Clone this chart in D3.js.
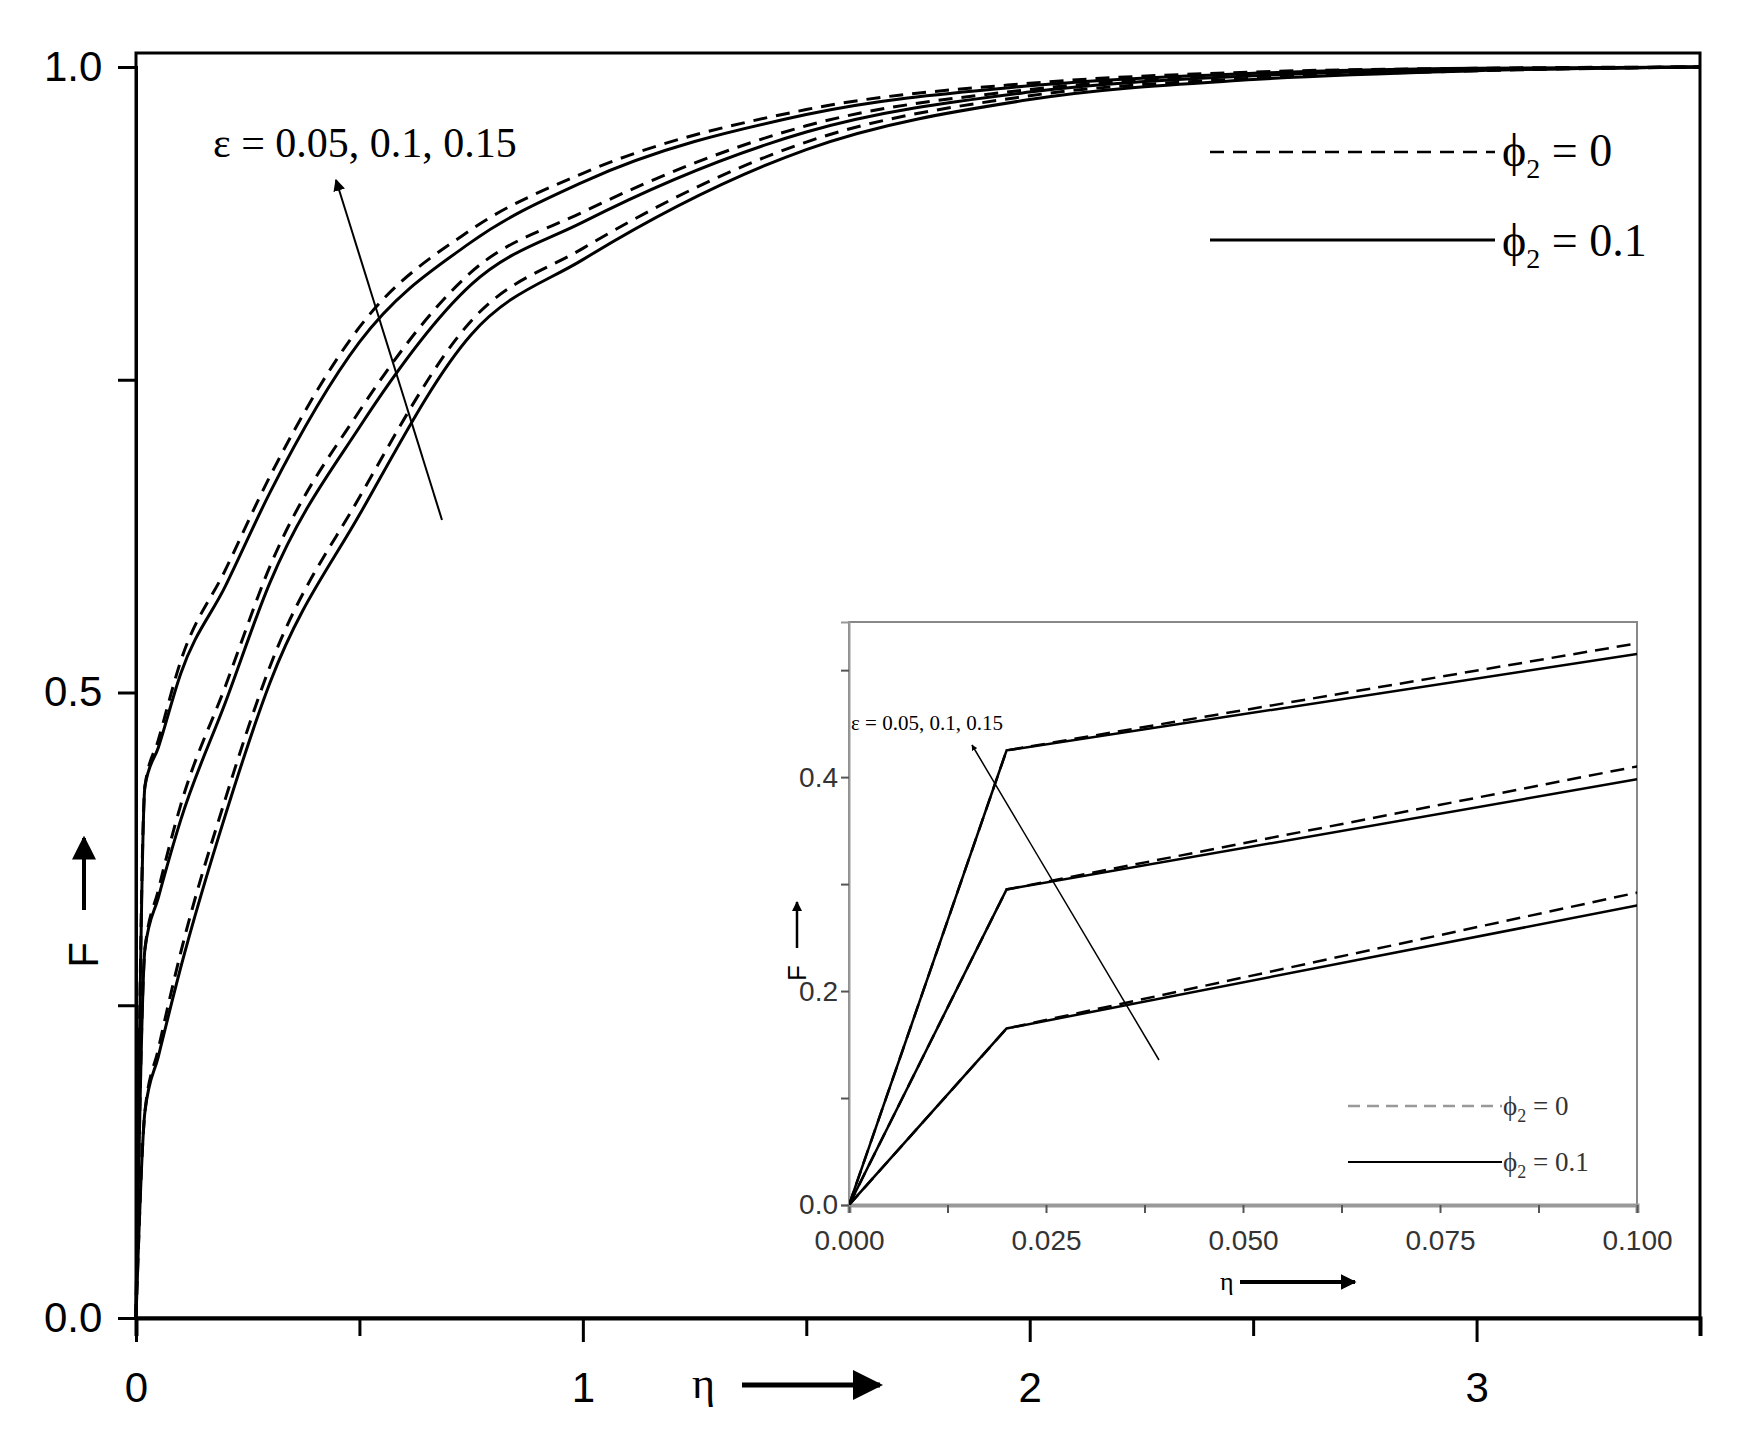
<!DOCTYPE html>
<html><head><meta charset="utf-8">
<script src="https://cdn.jsdelivr.net/npm/d3@7"></script>
<style>body{margin:0;background:#fff}</style>
</head><body>
<svg id="chart" width="1746" height="1436"></svg>
<script>
// eta values and F profiles (three epsilon cases, phi2 = 0 dashed, phi2 = 0.1 solid)
const eta = [0, 0.02, 0.05, 0.1, 0.2, 0.3, 0.5, 0.75, 1.0, 1.5, 2.0, 2.5, 3.0, 3.5];
const solid = [
  [0, 0.425, 0.456, 0.515, 0.585, 0.66, 0.78, 0.86, 0.908, 0.962, 0.985, 0.995, 0.999, 1.0],
  [0, 0.295, 0.336, 0.398, 0.492, 0.588, 0.712, 0.826, 0.876, 0.948, 0.98, 0.993, 0.998, 1.0],
  [0, 0.165, 0.209, 0.28, 0.402, 0.508, 0.642, 0.786, 0.846, 0.934, 0.974, 0.99, 0.997, 1.0]
];
const dashed = [
  [0, 0.425, 0.462, 0.525, 0.598, 0.673, 0.792, 0.87, 0.915, 0.966, 0.987, 0.996, 0.999, 1.0],
  [0, 0.295, 0.342, 0.41, 0.505, 0.601, 0.725, 0.836, 0.884, 0.953, 0.982, 0.994, 0.998, 1.0],
  [0, 0.165, 0.215, 0.292, 0.415, 0.521, 0.656, 0.797, 0.855, 0.94, 0.977, 0.991, 0.997, 1.0]
];
const mainXTicks = [0, 1, 2, 3];
const mainYTicks = [0.0, 0.5, 1.0];
const insetXTicks = [0, 0.025, 0.05, 0.075, 0.1];
const insetYTicks = [0.0, 0.2, 0.4];

const svg = d3.select("#chart");
const sans = "Liberation Sans, Arial, sans-serif";
const serif = "Liberation Serif, Times New Roman, serif";

svg.append("defs").append("marker").attr("id", "ah")
  .attr("viewBox", "0 0 10 10").attr("refX", 9).attr("refY", 5)
  .attr("markerWidth", 6).attr("markerHeight", 6).attr("orient", "auto")
  .append("path").attr("d", "M0,0L10,5L0,10z").attr("fill", "#000");
svg.select("defs").append("marker").attr("id", "ah2")
  .attr("viewBox", "0 0 10 10").attr("refX", 9).attr("refY", 5)
  .attr("markerWidth", 4).attr("markerHeight", 4).attr("orient", "auto")
  .append("path").attr("d", "M0,0L10,5L0,10z").attr("fill", "#000");

function arrow(g, x1, y1, x2, y2, w, m) {
  g.append("line").attr("x1", x1).attr("y1", y1).attr("x2", x2).attr("y2", y2)
    .attr("stroke", "#000").attr("stroke-width", w).attr("marker-end", "url(#" + m + ")");
}

// ---------- main chart
const x = d3.scaleLinear().domain([0, 3.5]).range([136, 1700]);
const y = d3.scaleLinear().domain([0, 1]).range([1318, 67]);
const main = svg.append("g");

main.append("rect").attr("x", 136).attr("y", 53).attr("width", 1564).attr("height", 1265)
  .attr("fill", "none").attr("stroke", "#000").attr("stroke-width", 3);

const xAx = main.append("g").attr("transform", "translate(0,1318)")
  .call(d3.axisBottom(x).tickValues(d3.range(0, 3.51, 0.5)).tickSize(18)
    .tickFormat(d => mainXTicks.includes(d) ? d3.format("d")(d) : ""));
xAx.selectAll("text").attr("font-size", 42).attr("font-family", sans).attr("dy", "1.5em");
xAx.selectAll(".tick line").attr("stroke-width", 3).attr("y2", d => mainXTicks.includes(d) ? 24 : 18);
xAx.select(".domain").attr("stroke-width", 4);

const yAx = main.append("g").attr("transform", "translate(136,0)")
  .call(d3.axisLeft(y).tickValues(d3.range(0, 1.01, 0.25)).tickSize(18)
    .tickFormat(d => mainYTicks.includes(d) ? d3.format(".1f")(d) : ""));
yAx.selectAll("text").attr("font-size", 42).attr("font-family", sans).attr("dx", "-0.3em");
yAx.selectAll(".tick line").attr("stroke-width", 3);
yAx.select(".domain").attr("stroke-width", 3);

const line = d3.line().x(d => x(d[0])).y(d => y(d[1])).curve(d3.curveMonotoneX);
solid.forEach(s => main.append("path").datum(eta.map((e, i) => [e, s[i]]))
  .attr("d", line).attr("fill", "none").attr("stroke", "#000").attr("stroke-width", 3));
dashed.forEach(s => main.append("path").datum(eta.map((e, i) => [e, s[i]]))
  .attr("d", line).attr("fill", "none").attr("stroke", "#000").attr("stroke-width", 3)
  .attr("stroke-dasharray", "14,9"));

main.append("text").attr("x", 213).attr("y", 157).attr("font-family", serif).attr("font-size", 42)
  .text("ε = 0.05, 0.1, 0.15");
arrow(main, 442, 520, 336, 180, 2, "ah");

// legend
main.append("line").attr("x1", 1210).attr("x2", 1495).attr("y1", 152).attr("y2", 152)
  .attr("stroke", "#000").attr("stroke-width", 2.5).attr("stroke-dasharray", "14,9");
main.append("line").attr("x1", 1210).attr("x2", 1495).attr("y1", 240).attr("y2", 240)
  .attr("stroke", "#000").attr("stroke-width", 3);
[["0", 166], ["0.1", 256]].forEach(([v, yy]) => {
  const t = main.append("text").attr("x", 1502).attr("y", yy).attr("font-family", serif).attr("font-size", 46);
  t.append("tspan").text("ϕ");
  t.append("tspan").attr("font-size", 28).attr("dy", 12).text("2");
  t.append("tspan").attr("dy", -12).text(" = " + v);
});

// axis titles
main.append("text").attr("transform", "translate(98,955) rotate(-90)").attr("text-anchor", "middle")
  .attr("font-family", sans).attr("font-size", 42).text("F");
arrow(main, 84, 910, 84, 838, 4, "ah");
main.append("text").attr("x", 692).attr("y", 1398).attr("font-family", serif).attr("font-size", 44).text("η");
arrow(main, 742, 1385, 880, 1385, 5, "ah");

// ---------- inset
const ix = d3.scaleLinear().domain([0, 0.1]).range([849, 1637]);
const iy = d3.scaleLinear().domain([0, 0.545]).range([1205, 622]);
const ins = svg.append("g");
ins.append("rect").attr("x", 849).attr("y", 622).attr("width", 788).attr("height", 583)
  .attr("fill", "#fff").attr("stroke", "#888").attr("stroke-width", 2);
ins.append("defs").append("clipPath").attr("id", "ic").append("rect")
  .attr("x", 849).attr("y", 622).attr("width", 788).attr("height", 583);

const ixAx = ins.append("g").attr("transform", "translate(0,1205)")
  .call(d3.axisBottom(ix).tickValues(d3.range(0, 0.1001, 0.0125)).tickSize(8)
    .tickFormat(d => insetXTicks.some(t => Math.abs(t - d) < 1e-9) ? d3.format(".3f")(d) : ""));
ixAx.selectAll("text").attr("font-size", 28).attr("font-family", sans).attr("fill", "#333").attr("dy", "1.2em");
ixAx.selectAll(".tick line").attr("stroke", "#555").attr("stroke-width", 2);
ixAx.select(".domain").attr("stroke", "#999").attr("stroke-width", 4);

const iyAx = ins.append("g").attr("transform", "translate(849,0)")
  .call(d3.axisLeft(iy).tickValues(d3.range(0, 0.5001, 0.1)).tickSize(8)
    .tickFormat(d => insetYTicks.some(t => Math.abs(t - d) < 1e-9) ? d3.format(".1f")(d) : ""));
iyAx.selectAll("text").attr("font-size", 28).attr("font-family", sans).attr("fill", "#333");
iyAx.selectAll(".tick line").attr("stroke", "#555").attr("stroke-width", 2);
iyAx.select(".domain").attr("stroke", "#999").attr("stroke-width", 2);

// inset shows the near-wall region: straight segments between the sampled points
const iline = d3.line().x(d => ix(d[0])).y(d => iy(d[1]));
const insetPts = s => eta.map((e, i) => [e, s[i]]).filter(p => p[0] !== 0.05 && p[0] <= 0.2);
const plotI = ins.append("g").attr("clip-path", "url(#ic)");
solid.forEach(s => plotI.append("path").datum(insetPts(s))
  .attr("d", iline).attr("fill", "none").attr("stroke", "#000").attr("stroke-width", 2.5));
dashed.forEach(s => plotI.append("path").datum(insetPts(s))
  .attr("d", iline).attr("fill", "none").attr("stroke", "#000").attr("stroke-width", 2.5)
  .attr("stroke-dasharray", "14,8"));

ins.append("text").attr("x", 851).attr("y", 730).attr("font-family", serif).attr("font-size", 21)
  .text("ε = 0.05, 0.1, 0.15");
arrow(ins, 1159, 1060, 972, 745, 1.5, "ah2");

ins.append("line").attr("x1", 1348).attr("x2", 1502).attr("y1", 1106).attr("y2", 1106)
  .attr("stroke", "#999").attr("stroke-width", 2.5).attr("stroke-dasharray", "12,7");
ins.append("line").attr("x1", 1348).attr("x2", 1502).attr("y1", 1162).attr("y2", 1162)
  .attr("stroke", "#000").attr("stroke-width", 2);
[["0", 1115], ["0.1", 1171]].forEach(([v, yy]) => {
  const t = ins.append("text").attr("x", 1503).attr("y", yy).attr("font-family", serif)
    .attr("font-size", 27).attr("fill", "#333");
  t.append("tspan").text("ϕ");
  t.append("tspan").attr("font-size", 18).attr("dy", 7).text("2");
  t.append("tspan").attr("dy", -7).text(" = " + v);
});
ins.append("text").attr("transform", "translate(806,973) rotate(-90)").attr("text-anchor", "middle")
  .attr("font-family", sans).attr("font-size", 26).text("F");
arrow(ins, 797, 948, 797, 902, 2.5, "ah2");
ins.append("text").attr("x", 1220).attr("y", 1290).attr("font-family", serif).attr("font-size", 26).text("η");
arrow(ins, 1240, 1282, 1355, 1282, 4, "ah2");
</script>
</body></html>
